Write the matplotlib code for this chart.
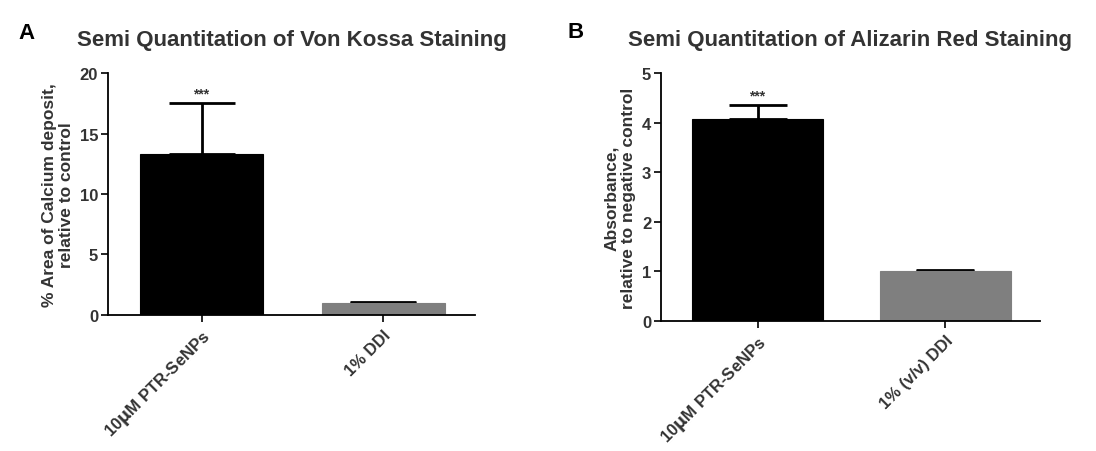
import numpy as np
import matplotlib.pyplot as plt

plt.rcParams['font.family'] = ['Liberation Sans', 'DejaVu Sans']
plt.rcParams['font.weight'] = 'bold'

groups_a = ['10$\\mathbf{\\mu}$M PTR-SeNPs', '1% DDI']
means_a = [13.3, 1.0]
errs_a = [4.2, 0.08]

groups_b = ['10$\\mathbf{\\mu}$M PTR-SeNPs', '1% (v/v) DDI']
means_b = [4.07, 1.0]
errs_b = [0.28, 0.03]

colors = ['black', '#7f7f7f']


def panel(ax, groups, means, errs, ylim, yticks, ylabel, title, letter, width, cap):
    x = np.arange(len(groups))
    ax.bar(x, means, width=width, color=colors, edgecolor=colors, linewidth=0.8, zorder=2)
    ax.errorbar(x, means, yerr=[np.zeros(len(errs)), errs], fmt='none',
                ecolor='black', elinewidth=2, capsize=cap, capthick=2, zorder=1)
    ax.text(x[0], means[0] + errs[0] + ylim[1] * 0.012, '***', ha='center', va='bottom',
            fontsize=10, color='#333333')
    ax.set_xlim(-0.515, 1.505)
    ax.set_ylim(*ylim)
    ax.set_yticks(yticks)
    ax.set_xticks(x)
    ax.set_xticklabels(groups, rotation=45, ha='right', rotation_mode='anchor',
                       fontsize=12, fontweight='bold', color='#333333')
    for lab in ax.get_yticklabels():
        lab.set_fontweight('bold')
        lab.set_color('#333333')
    ax.tick_params(axis='y', labelsize=12, length=5, width=1.2, pad=2)
    ax.tick_params(axis='x', length=5, width=1.2)
    ax.spines['top'].set_visible(False)
    ax.spines['right'].set_visible(False)
    for s in ['left', 'bottom']:
        ax.spines[s].set_linewidth(1.3)
    ax.set_ylabel(ylabel, fontsize=12.5, fontweight='bold', color='#333333', labelpad=4)
    ax.set_title(title, fontsize=16, fontweight='bold', color='#333333', pad=20)
    ax.text(-0.245, 1.125, letter, transform=ax.transAxes, fontsize=16,
            fontweight='bold', ha='left', va='bottom')


fig = plt.figure(figsize=(10.96, 4.52), dpi=100)
ax1 = fig.add_axes([0.0985, 0.301, 0.335, 0.535])
ax2 = fig.add_axes([0.603, 0.288, 0.346, 0.548])

panel(ax1, groups_a, means_a, errs_a, (0, 20), [0, 5, 10, 15, 20],
      '% Area of Calcium deposit,\nrelative to control',
      'Semi Quantitation of Von Kossa Staining', 'A', 0.676, 24)
panel(ax2, groups_b, means_b, errs_b, (0, 5), [0, 1, 2, 3, 4, 5],
      'Absorbance,\nrelative to negative control',
      'Semi Quantitation of Alizarin Red Staining', 'B', 0.70, 21)

fig.savefig('out.png', dpi=100)
